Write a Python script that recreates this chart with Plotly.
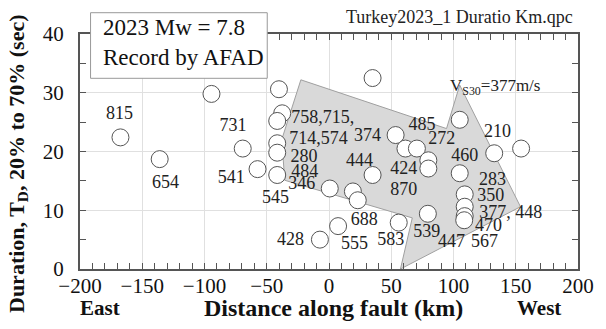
import plotly.graph_objects as go

# Station data points: distance along fault (km), duration (sec)
pt_x = [-167.5, -136, -94.4, -69.3, -57.4, -40.2, -37.6, -41.6, -41.6, -41.6, -41.6,
        0.6, 19.2, 23.1, 35, 35, 53.5, 61.4, 70.6, 79.8, 79.8, 7.3, -7.3, 56, 79.4,
        105, 132.7, 154.3, 105, 109, 109, 109, 108.6]
pt_y = [22.4, 18.7, 29.8, 20.5, 17.0, 30.6, 26.5, 25.2, 21.4, 19.8, 16.0,
        13.7, 13.2, 11.7, 16.0, 32.5, 22.8, 20.5, 20.5, 18.5, 17.1, 7.3, 5.0, 7.9, 9.4,
        25.4, 19.7, 20.5, 16.3, 12.7, 10.6, 9.0, 8.3]

# Station labels (text and data position)
lab_text = ["815", "654", "731", "541", "545", "346", "484", "280", "758,715,", "714,574",
            "374", "444", "424", "870", "688", "555", "583", "428", "485", "272",
            "460", "210", "283", "350", "377, 448", "470", "567", "447", "539"]
lab_x = [-168.3, -131.3, -77.2, -78.6, -42.9, -21.8, -19.5, -20, -5, -8.5,
         31, 24.4, 60, 60, 28.4, 20.5, 49.5, -31, 74.6, 90.5,
         109, 135.3, 131.3, 130, 146, 128.2, 124.8, 98.4, 78.6]
lab_y = [26.3, 14.6, 24.2, 15.4, 12.0, 14.3, 16.4, 19.0, 25.6, 22.1,
         22.6, 18.3, 16.9, 13.3, 8.3, 4.2, 4.8, 4.8, 24.5, 22.0,
         19.2, 23.2, 15.0, 12.3, 9.5, 7.2, 4.5, 4.5, 6.2]

# Shaded region (Vs30 zone)
poly_x = [-22.6, 94.4, 105, 153.8, 57.4, 66.9, -35.5, -38]
poly_y = [32.2, 23.9, 31.3, 10.6, 0.0, 8.7, 15.1, 22.0]

serif = "Liberation Serif"

fig = go.Figure()
fig.add_trace(go.Scatter(
    x=poly_x + [poly_x[0]], y=poly_y + [poly_y[0]], mode="lines", fill="toself",
    fillcolor="#d9d9d9", line=dict(color="#a0a0a0", width=1), hoverinfo="skip"))
fig.add_trace(go.Scatter(
    x=pt_x, y=pt_y, mode="markers",
    marker=dict(size=17, color="white", line=dict(color="#555555", width=1))))
fig.add_trace(go.Scatter(
    x=lab_x, y=lab_y, mode="text", text=lab_text,
    textfont=dict(family=serif, size=18, color="#222222")))

fig.add_annotation(x=133, y=31.0, xref="x", yref="y",
                   text="V<sub>S30</sub>=377m/s", showarrow=False,
                   font=dict(family=serif, size=17, color="#222222"))

# Legend box
fig.add_shape(type="rect", xref="paper", yref="paper",
              x0=0.0212, x1=0.376, y0=0.8115, y1=1.0906,
              line=dict(color="#999999", width=1), fillcolor="white", layer="above")
fig.add_annotation(x=0.043, y=0.962, xref="paper", yref="paper", xanchor="left", yanchor="middle",
                   text="2023 Mw = 7.8<br>Record by AFAD", showarrow=False, align="left",
                   font=dict(family=serif, size=23, color="#111111"))

fig.add_annotation(x=0.994, y=1.0, xref="paper", yref="paper", xanchor="right", yanchor="bottom",
                   yshift=5, text="Turkey2023_1 Duratio Km.qpc", showarrow=False,
                   font=dict(family=serif, size=18, color="#222222"))

fig.add_annotation(x=0.51, y=-0.166, xref="paper", yref="paper", yanchor="middle",
                   text="<b>Distance along fault (km)</b>", showarrow=False,
                   font=dict(family=serif, size=24, color="#111111"))
fig.add_annotation(x=-184, y=-0.166, xref="x", yref="paper", yanchor="middle",
                   text="<b>East</b>", showarrow=False,
                   font=dict(family=serif, size=21, color="#111111"))
fig.add_annotation(x=168.3, y=-0.166, xref="x", yref="paper", yanchor="middle",
                   text="<b>West</b>", showarrow=False,
                   font=dict(family=serif, size=21, color="#111111"))
fig.add_annotation(x=-0.125, y=0.45, xref="paper", yref="paper", textangle=-90,
                   xanchor="center", yanchor="middle",
                   text="<b>Duration, T<sub>D</sub>, 20% to 70% (sec)</b>", showarrow=False,
                   font=dict(family=serif, size=22, color="#111111"))

axis_common = dict(showline=True, linecolor="#555555", linewidth=2, mirror="allticks",
                   ticks="inside", ticklen=6, tickcolor="#555555", tickwidth=1,
                   showgrid=True, gridcolor="#e0e0e0", gridwidth=1, zeroline=False,
                   tickfont=dict(family=serif, size=21, color="#111111"))

fig.update_layout(
    width=606, height=329, margin=dict(l=80, r=21, t=34, b=60),
    paper_bgcolor="white", plot_bgcolor="white", showlegend=False,
    xaxis=dict(range=[-200, 200], dtick=50, tick0=0, ticklabelstandoff=-3,
               minor=dict(dtick=10, ticks="inside", ticklen=6, tickcolor="#555555", showgrid=False),
               **axis_common),
    yaxis=dict(range=[0, 40], dtick=10, tick0=0, ticklabelstandoff=10,
               minor=dict(dtick=5, ticks="inside", ticklen=6, tickcolor="#555555", showgrid=False),
               **axis_common),
)

fig.write_html("out.html")
